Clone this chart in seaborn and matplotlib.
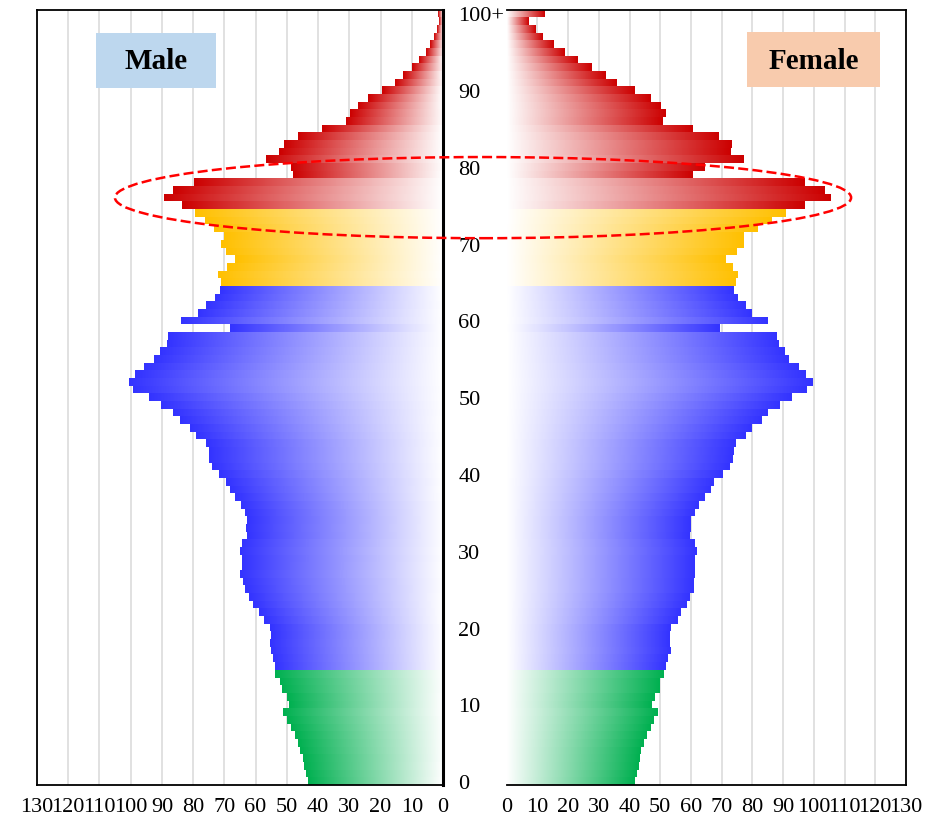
import matplotlib

matplotlib.use("Agg")
import matplotlib.pyplot as plt
import numpy as np
import pandas as pd
import seaborn as sns
from matplotlib.colors import LinearSegmentedColormap
from matplotlib.patches import Ellipse, Rectangle

# population by single year of age (0 .. 100+), unit: 10,000 people
ages = [str(a) for a in range(100)] + ["100+"]
male = [
    43.1, 43.9, 44.4, 44.9, 45.8, 46.5, 47.4, 48.7, 50.1, 51.1,
    49.2, 49.9, 51.6, 52.2, 53.8, 53.8, 54.5, 55.1, 55.4, 55.1,
    55.4, 57.3, 58.8, 60.7, 62.1, 63.4, 64.1, 65.0, 64.3, 64.5,
    65.0, 64.4, 62.8, 63.1, 62.8, 63.4, 64.7, 66.6, 68.2, 69.5,
    71.7, 74.0, 74.9, 74.9, 75.9, 79.1, 81.0, 84.2, 86.5, 90.3,
    94.1, 99.3, 100.5, 98.6, 95.7, 92.5, 90.6, 88.4, 88.1, 68.2,
    83.9, 78.3, 75.9, 73.0, 71.4, 71.1, 72.0, 69.3, 66.6, 69.5,
    71.1, 70.1, 73.3, 76.2, 79.4, 83.5, 89.3, 86.4, 79.7, 47.9,
    48.8, 56.8, 52.4, 50.8, 46.3, 38.6, 31.1, 29.8, 27.1, 23.9,
    19.4, 15.4, 12.7, 10.0, 7.6, 5.6, 4.2, 3.0, 1.8, 1.2,
    1.5,
]
female = [
    41.4, 42.3, 42.7, 43.0, 43.6, 44.3, 45.3, 46.6, 47.6, 48.9,
    47.2, 47.9, 49.8, 49.8, 51.1, 51.5, 52.1, 53.1, 52.8, 52.8,
    53.1, 55.4, 56.4, 58.3, 59.3, 60.6, 60.6, 60.9, 61.2, 61.2,
    61.6, 60.9, 59.3, 59.9, 59.9, 60.9, 62.2, 64.2, 66.1, 67.1,
    70.0, 72.3, 73.3, 73.6, 74.3, 77.5, 79.5, 82.7, 84.7, 88.6,
    92.5, 97.4, 99.3, 97.1, 94.8, 91.8, 90.2, 88.3, 87.9, 69.1,
    84.7, 79.5, 77.6, 74.9, 73.6, 74.4, 75.2, 73.4, 71.1, 74.7,
    76.9, 76.9, 81.4, 86.1, 90.7, 96.7, 105.3, 103.4, 96.7, 60.4,
    64.3, 76.9, 72.7, 73.1, 68.8, 60.4, 50.6, 51.6, 49.9, 46.7,
    41.5, 35.5, 32.2, 27.5, 23.1, 18.7, 15.0, 11.7, 9.2, 7.0,
    12.1,
]
group_names = ["0-14", "15-64", "65-74", "75+"]
group_bins = [-1, 14, 64, 74, 100]
group_colors = ["#00b050", "#3333ff", "#ffc000", "#cc0000"]
tick_ages = ["0", "10", "20", "30", "40", "50", "60", "70", "80", "90", "100+"]
x_ticks = list(range(0, 131, 10))

df = pd.DataFrame({"age": ages, "male": male, "female": female})
df["group"] = pd.cut(range(len(ages)), bins=group_bins, labels=group_names).astype(str)
order = ages[::-1]  # 100+ on top
palette = dict(zip(group_names, group_colors))

sns.set_style("white")
plt.rcParams["font.family"] = ["Liberation Serif", "DejaVu Serif"]
plt.rcParams["font.size"] = 16
for key in ["text.color", "axes.labelcolor", "xtick.color", "ytick.color"]:
    plt.rcParams[key] = "black"

fig = plt.figure(figsize=(9.39, 8.28), dpi=100)
ax_l = fig.add_axes([37 / 939, 42 / 828, 406 / 939, 775.5 / 828])
ax_r = fig.add_axes([506.7 / 939, 42 / 828, 399.3 / 939, 775.5 / 828])


def gradient_bars(ax):
    # swap each flat bar for a white -> colour ramp clipped to the bar
    ramp = np.linspace(0, 1, 256).reshape(1, -1)
    for bar in list(ax.patches):
        w = bar.get_width()
        if not np.isfinite(w) or w == 0:
            continue
        cmap = LinearSegmentedColormap.from_list("g", ["white", bar.get_facecolor()[:3]])
        x0, y0, h = bar.get_x(), bar.get_y(), bar.get_height()
        im = ax.imshow(ramp, cmap=cmap, extent=(x0, x0 + w, y0, y0 + h),
                       aspect="auto", interpolation="bilinear", zorder=2)
        im.set_clip_path(bar)
        bar.set_facecolor("none")


for ax, col in [(ax_l, "male"), (ax_r, "female")]:
    sns.barplot(data=df, x=col, y="age", hue="group", order=order,
                hue_order=group_names, palette=palette, orient="h",
                width=1.0, dodge=False, saturation=1, linewidth=0,
                legend=False, ax=ax)
    gradient_bars(ax)
    ax.set_xlabel("")
    ax.set_ylabel("")
    ax.set_xticks(x_ticks)
    ax.set_xticklabels([str(t) for t in x_ticks])
    ax.set_yticks([order.index(a) for a in tick_ages])
    ax.set_yticklabels(tick_ages)
    ax.set_ylim(len(order) - 0.5, -0.5)
    ax.set_axisbelow(True)
    ax.grid(axis="x", color="#d9d9d9", linewidth=1.1, zorder=0)
    ax.grid(axis="y", visible=False)
    ax.tick_params(axis="x", length=0, pad=9, labelsize=16, labelcolor="black")
    for s in ax.spines.values():
        s.set_color("black")
        s.set_linewidth(1.3)

ax_l.set_xlim(130, 0)
ax_r.set_xlim(0, 130)

ax_l.yaxis.tick_right()
ax_l.tick_params(axis="y", length=0, pad=11, labelsize=16, labelcolor="black")
ax_l.spines["right"].set_linewidth(2.2)
ax_l.spines["right"].set_zorder(5)
ax_r.tick_params(axis="y", left=False, labelleft=False)
ax_r.spines["left"].set_visible(False)

# sex labels
ax_l.add_patch(Rectangle((0.145, 0.899), 0.296, 0.071, transform=ax_l.transAxes,
                         facecolor="#bdd7ee", edgecolor="none", zorder=4))
ax_l.text(0.293, 0.934, "Male", transform=ax_l.transAxes, ha="center", va="center",
          fontsize=21, fontweight="bold", color="black", zorder=5)
ax_r.add_patch(Rectangle((0.602, 0.900), 0.333, 0.071, transform=ax_r.transAxes,
                         facecolor="#f8cbad", edgecolor="none", zorder=4))
ax_r.text(0.768, 0.934, "Female", transform=ax_r.transAxes, ha="center", va="center",
          fontsize=21, fontweight="bold", color="black", zorder=5)

# dashed ellipse around the 75-78 bulge
_, yc = ax_l.transData.transform((0, order.index("76")))
_, yc = fig.transFigure.inverted().transform((0, yc))
fig.patches.append(Ellipse((0.5144, yc), 0.784, 0.098, transform=fig.transFigure,
                           fill=False, edgecolor="#ff0000", linewidth=1.8,
                           linestyle=(0, (4, 1.7)), zorder=10))

fig.savefig("out.png", dpi=100)
